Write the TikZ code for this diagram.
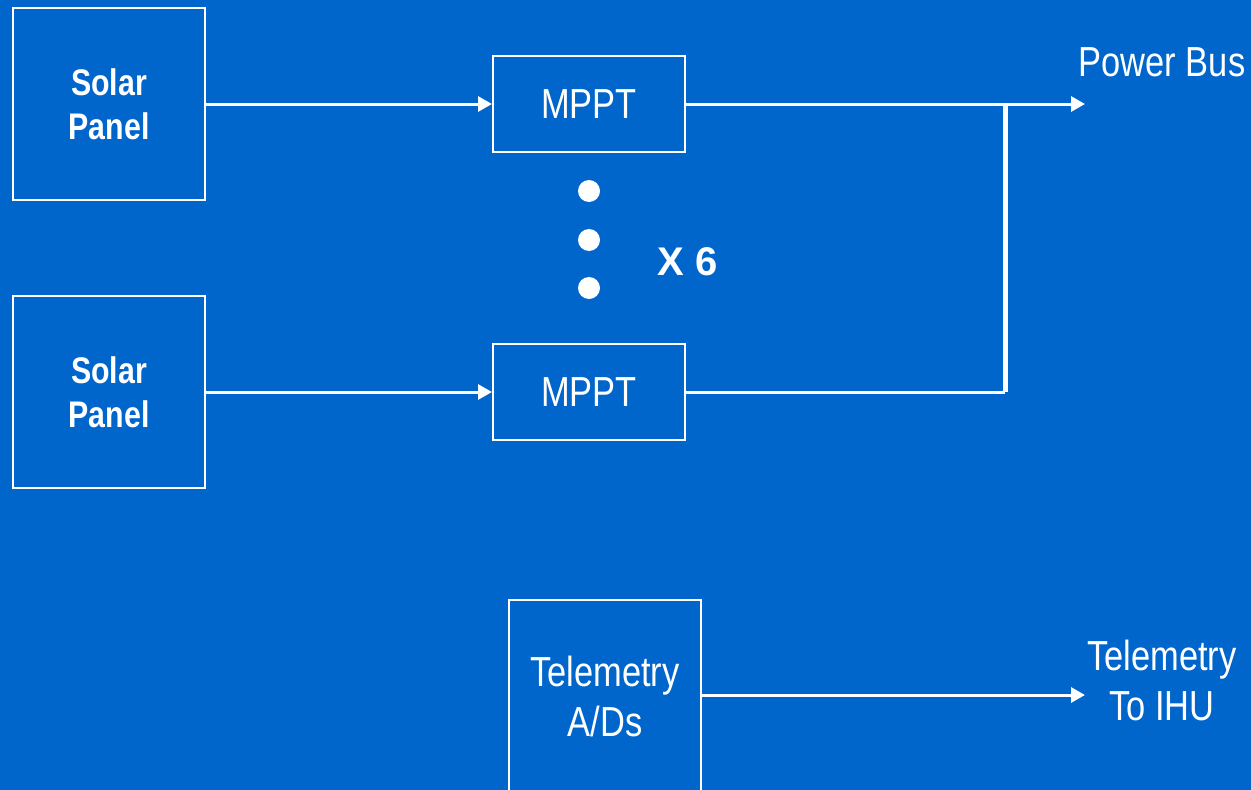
\documentclass[tikz,border=0pt]{standalone}
\usepackage{fontspec}
\setmainfont{Liberation Sans}[FakeStretch=0.82]
\newfontfamily\widefont{Liberation Sans}
\usetikzlibrary{arrows.meta}
\definecolor{bg}{RGB}{0,102,204}
\tikzset{
  box/.style={draw=white, line width=2pt, text=white, align=center, inner sep=0pt},
  big/.style={box, minimum width=192pt, minimum height=192pt},
  small/.style={box, minimum width=192pt, minimum height=96pt},
  lbl/.style={text=white, align=center, inner sep=0pt},
  wire/.style={white, line width=3pt},
  arr/.style={wire, -{Triangle[length=14pt,width=15pt]}},
  dot/.style={circle, fill=white, minimum size=22pt, inner sep=0pt},
  regtext/.style={font=\fontsize{42}{50}\selectfont},
  boldtext/.style={font=\fontsize{37}{44}\selectfont\bfseries},
}
\begin{document}
\begin{tikzpicture}[x=1pt,y=-1pt]
\fill[bg] (0,0) rectangle (1251,790);
\useasboundingbox (0,0) rectangle (1251,790);
\node[big, boldtext] (sp1) at (109,104) {Solar\\Panel};
\node[big, boldtext] (sp2) at (109,392) {Solar\\Panel};
\node[small, regtext] (m1) at (589,104) {MPPT};
\node[small, regtext] (m2) at (589,392) {MPPT};
\node[big, regtext] (tel) at (605,696) {Telemetry\\A/Ds};
\node[dot] (d1) at (589,191) {};
\node[dot] (d2) at (589,240) {};
\node[dot] (d3) at (589,288) {};
\node[lbl, font=\widefont\fontsize{40}{48}\selectfont\bfseries] (x6) at (688,262) {X 6};
\node[lbl, regtext] (pb) at (1162,62) {Power Bus};
\node[lbl, regtext] (tih) at (1162,680) {Telemetry\\To IHU};
\coordinate (pbend) at (1085,104);
\coordinate (tmend) at (1085,695);
\coordinate (j1) at (1005,104);
\coordinate (j2) at (1005,392);
\draw[arr] (sp1.east) -- (m1.west);
\draw[arr] (sp2.east) -- (m2.west);
\draw[arr] (m1.east) -- (pbend);
\draw[wire] (m2.east) -- (j2);
\draw[white, line width=5pt] (j2) -- (j1);
\draw[arr] (tel.east |- tmend) -- (tmend);
\end{tikzpicture}
\end{document}
